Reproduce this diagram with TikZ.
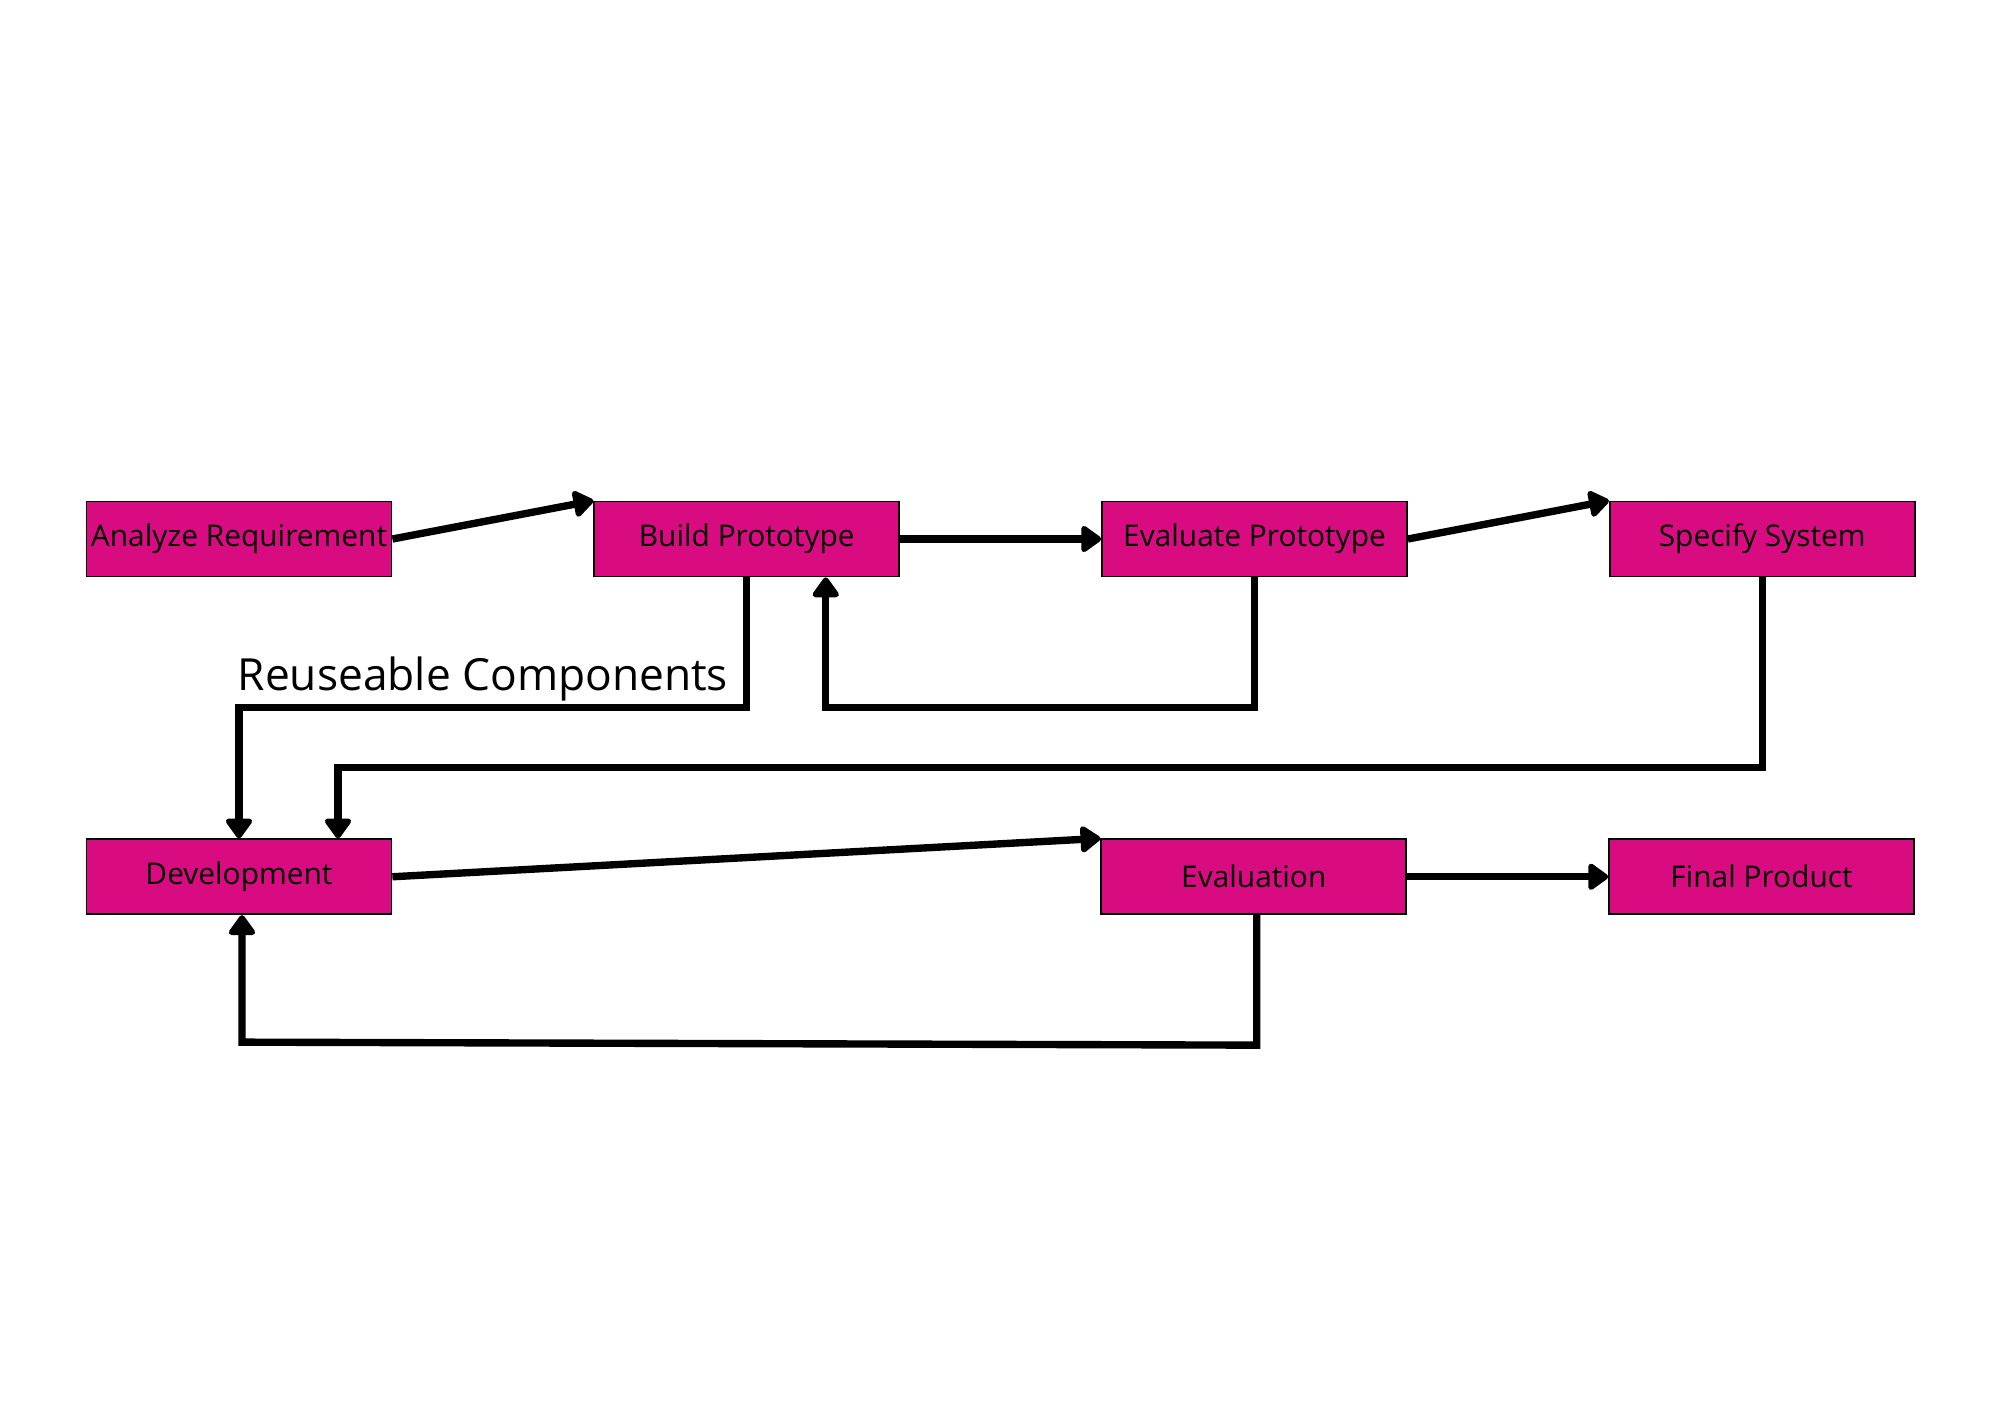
\documentclass[tikz,border=0pt]{standalone}
\usepackage{fontspec}
\setmainfont{Open Sans}
\usepackage{tikz}
\usetikzlibrary{arrows.meta,positioning}
\definecolor{phasepink}{RGB}{216,12,128}
\tikzstyle{phase} = [rectangle, minimum width=3.05cm, minimum height=0.75cm, inner sep=1pt, text centered, draw=black, line width=0.5pt, fill=phasepink, font=\fontsize{8.5}{10}\selectfont]
\tikzstyle{arrow} = [line width=2.1pt, -{Triangle[length=0.22cm,width=0.3cm,round]}, color=black]
\tikzstyle{annot} = [inner sep=0pt, font=\fontsize{12.6}{15}\selectfont]

\begin{document}
\begin{tikzpicture}
\useasboundingbox (0,0) rectangle (20,-14.14);
% Upper row
\node (ana) [phase] at (2.39,-5.39) {Analyze Requirement};
\node (build) [phase, right=2.01cm of ana] {Build Prototype};
\node (evalp) [phase, right=2.01cm of build] {Evaluate Prototype};
\node (spec) [phase, right=2.01cm of evalp] {Specify System};
% Lower row
\node (dev) [phase, below=2.61cm of ana] {Development};
\node (evaln) [phase, right=7.08cm of dev] {Evaluation};
\node (final) [phase, right=2.01cm of evaln] {Final Product};
\node (reuse) [annot, anchor=base west] at (2.37,-6.90) {Reuseable Components};

% Forward arrows
\draw[arrow] (ana.east) -- (build.north west);
\draw[arrow] (build) -- (evalp);
\draw[arrow] (evalp.east) -- (spec.north west);
\draw[arrow] (dev.east) -- (evaln.north west);
\draw[arrow] (evaln) -- (final);

% Feedback loops
\draw[arrow] (build.south) -- ++(0,-1.3) -| (dev.north);
\draw[arrow] (evalp.south) -- ++(0,-1.3) -| ([xshift=0.79cm]build.south);
\draw[arrow] (spec.south) -- ++(0,-1.9) -| ([xshift=0.99cm]dev.north);
\draw[arrow] ([xshift=0.03cm]evaln.south) -- ++(0,-1.3) -- ([xshift=0.03cm,yshift=-1.27cm]dev.south) -- ([xshift=0.03cm]dev.south);
\end{tikzpicture}
\end{document}
